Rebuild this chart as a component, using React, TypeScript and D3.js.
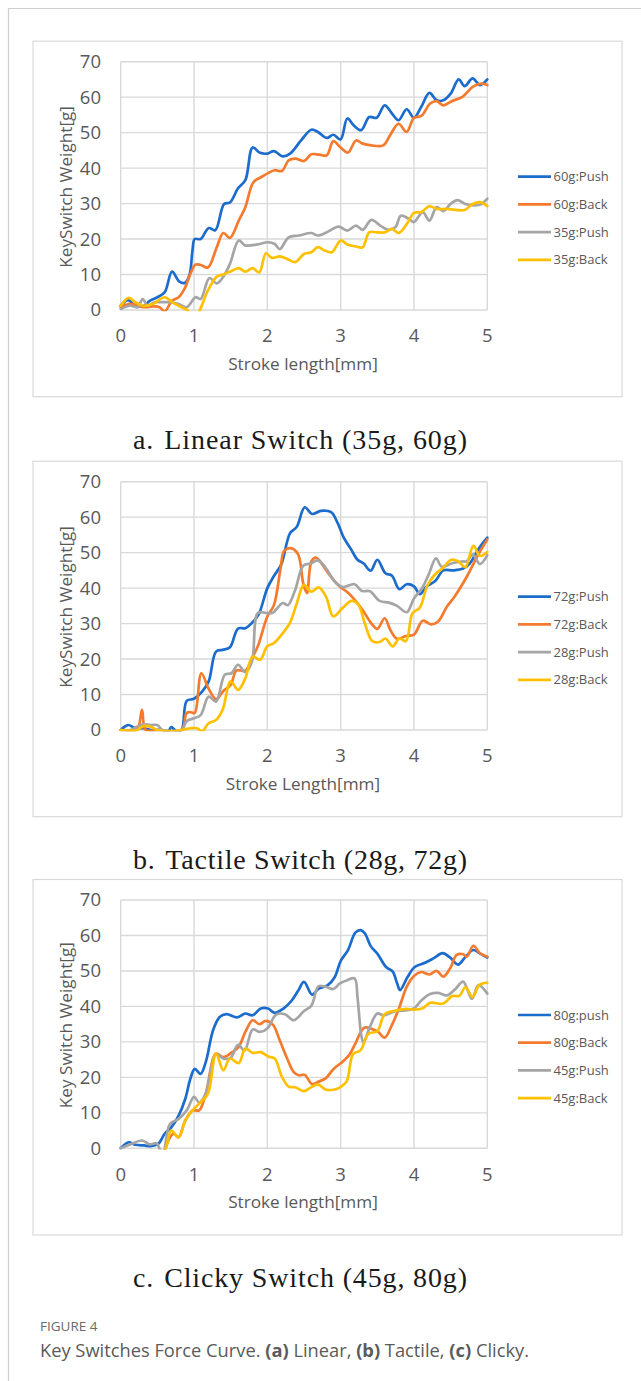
import React from 'react';
import * as d3 from 'd3';

type P = [number, number];

const xTicks = [0, 1, 2, 3, 4, 5];
const yTicks = [0, 10, 20, 30, 40, 50, 60, 70];
const seriesColors = ['#1b6ccc', '#f47a2e', '#a5a5a5', '#ffc000'];

// ---- a. Linear ----
const linearNames = ['60g:Push', '60g:Back', '35g:Push', '35g:Back'];
const a60Push: P[] = [[0,1.2],[0.1,2.8],[0.2,1.2],[0.32,1.2],[0.39,2.5],[0.5,3.6],[0.6,5],[0.7,10.8],[0.8,8],[0.88,7.7],[0.94,10],[0.98,17],[1.01,20],[1.09,20],[1.2,23.1],[1.29,22.5],[1.41,29.9],[1.49,30.3],[1.6,34.3],[1.7,36.6],[1.8,45.8],[1.9,44.3],[2.0,44.1],[2.09,44.8],[2.21,43.3],[2.31,44.1],[2.46,47.8],[2.6,50.8],[2.69,50.2],[2.81,48.5],[2.9,49.4],[3.0,48.1],[3.09,54],[3.18,52],[3.28,50.7],[3.39,54.4],[3.49,54.2],[3.6,57.7],[3.7,55.4],[3.79,53.5],[3.9,56.6],[4.0,54.2],[4.1,57.3],[4.21,61.2],[4.31,59.1],[4.4,59.1],[4.5,61],[4.61,65],[4.69,63.1],[4.8,65.3],[4.9,63.4],[5.0,65]];
const a60Back: P[] = [[0,0.8],[0.13,1.7],[0.32,0.8],[0.44,1],[0.53,0.8],[0.6,-0.4],[0.7,2.6],[0.79,3.6],[0.88,6.4],[0.95,10.2],[1.02,12.8],[1.09,12.7],[1.19,12],[1.31,17.7],[1.4,21.7],[1.49,20.3],[1.61,25.2],[1.7,29],[1.81,36],[1.92,37.5],[2.01,38.6],[2.1,39.4],[2.2,39.2],[2.29,42.2],[2.38,42.7],[2.5,42],[2.6,43.9],[2.71,43.8],[2.81,43.6],[2.9,47.6],[3.0,45.8],[3.1,44.4],[3.21,47.8],[3.3,46.9],[3.42,46.4],[3.58,46.4],[3.68,49.5],[3.79,52.5],[3.9,50.2],[4.0,54.2],[4.1,54.7],[4.22,58.2],[4.31,58.9],[4.4,57.7],[4.52,58.9],[4.66,60.1],[4.8,62.9],[4.92,63.8],[5.0,63.4]];
const a35Push: P[] = [[0,0.3],[0.13,1.2],[0.23,0.8],[0.3,3.1],[0.37,1.2],[0.46,2.2],[0.55,2.2],[0.65,2.2],[0.79,1.7],[0.9,0.8],[1.02,3.6],[1.09,3.1],[1.21,9],[1.31,7.5],[1.4,9.4],[1.49,13],[1.61,19.6],[1.7,18.2],[1.87,18.5],[2.01,19.1],[2.1,18.6],[2.17,17.2],[2.29,20.5],[2.43,21],[2.6,21.7],[2.69,21],[2.81,21.9],[2.97,23.5],[3.09,22.4],[3.21,23.8],[3.3,22.6],[3.42,25.4],[3.54,23.8],[3.65,22.6],[3.75,23.4],[3.82,26.6],[3.93,25.7],[4.0,24.8],[4.12,27.6],[4.21,25.2],[4.31,29],[4.4,27.9],[4.5,29.9],[4.59,31],[4.71,29.8],[4.83,29.5],[4.92,29.9],[5.0,31.4]];
const a35Back: P[] = [[0,1.2],[0.11,3.4],[0.2,2.2],[0.3,1.2],[0.44,1.7],[0.6,3.6],[0.7,2.2],[0.79,1.2],[0.93,-0.4],[1.0,-2.5],[1.07,-0.4],[1.19,5.5],[1.31,9.4],[1.4,10],[1.52,11.1],[1.61,11.8],[1.7,10.8],[1.8,11.8],[1.89,10.6],[1.98,16],[2.06,14.7],[2.17,15.1],[2.27,14.4],[2.38,13.5],[2.5,15.8],[2.6,16.3],[2.69,17.7],[2.78,16.8],[2.88,16.3],[3.0,19.6],[3.09,18.5],[3.21,17.9],[3.3,17.7],[3.39,21.9],[3.49,21.9],[3.6,21.9],[3.7,22.9],[3.79,21.7],[3.91,24.5],[4.0,27.4],[4.1,27.6],[4.21,29.3],[4.31,28.5],[4.45,28.5],[4.69,28.2],[4.8,29.9],[4.9,30.4],[5.0,29.3]];

// ---- b. Tactile ----
const tactileNames = ['72g:Push', '72g:Back', '28g:Push', '28g:Back'];
const b72Push: P[] = [[0,0],[0.1,1.4],[0.2,0.5],[0.31,0.5],[0.41,0],[0.55,0],[0.65,-0.3],[0.69,0.8],[0.76,-0.3],[0.83,0],[0.9,8.2],[1.0,8.8],[1.11,10.8],[1.2,13.7],[1.3,22.1],[1.39,22.6],[1.49,23.3],[1.6,28.6],[1.7,28.7],[1.79,30.2],[1.88,32.5],[2.0,40],[2.09,43.4],[2.19,46.7],[2.31,55.5],[2.4,57.2],[2.51,62.8],[2.61,60.9],[2.73,61.8],[2.87,61.4],[2.96,58.3],[3.04,54.3],[3.14,51],[3.23,48],[3.31,47],[3.41,44.9],[3.5,48],[3.61,44.2],[3.7,43.5],[3.8,39.7],[3.9,41.1],[4.0,40.5],[4.08,38.3],[4.18,40.6],[4.29,42],[4.4,45],[4.54,45],[4.67,45.5],[4.76,46.9],[4.85,50],[4.92,52.2],[5.0,54.2]];
const b72Back: P[] = [[0,0],[0.22,0],[0.29,5.7],[0.34,0],[0.5,0],[0.83,0],[0.9,4.8],[0.96,5],[1.01,4.8],[1.1,16],[1.2,11.6],[1.3,8.7],[1.4,11],[1.5,12.7],[1.58,16.8],[1.7,16.7],[1.79,20.3],[1.87,23.6],[2.0,32],[2.09,35.2],[2.18,45.5],[2.23,50.5],[2.33,51.2],[2.42,49.5],[2.49,41.3],[2.54,38.6],[2.6,47.5],[2.66,48.6],[2.7,48],[2.85,43.7],[2.98,40.6],[3.1,38.7],[3.22,36],[3.31,33.5],[3.41,30.3],[3.5,28.5],[3.6,31.5],[3.68,28.1],[3.77,25.7],[3.89,26.5],[4.0,26.9],[4.12,30.8],[4.23,29.8],[4.33,30.6],[4.45,34.8],[4.55,37.5],[4.72,43.2],[4.88,49.6],[5.0,53.7]];
const b28Push: P[] = [[0,0],[0.13,0],[0.22,0.9],[0.31,1.6],[0.41,1.4],[0.5,1.4],[0.57,0],[0.83,0],[0.9,2.5],[1.0,3.3],[1.09,4.2],[1.2,9.4],[1.3,8],[1.42,15.6],[1.51,16],[1.6,18.4],[1.7,16.3],[1.79,19.3],[1.87,33],[1.98,33],[2.07,33],[2.21,35.8],[2.28,35.2],[2.38,39.5],[2.49,46.3],[2.6,47],[2.69,47.8],[2.8,45.6],[2.92,41.8],[3.03,40.3],[3.19,41.1],[3.29,39.2],[3.4,39.1],[3.53,36.4],[3.66,35.9],[3.77,35],[3.9,33.2],[4.0,37.1],[4.11,40],[4.2,43.8],[4.3,48.4],[4.38,46],[4.52,47],[4.65,47.5],[4.72,47.6],[4.8,49.5],[4.9,46.8],[5.0,49.3]];
const b28Back: P[] = [[0,0],[0.22,0],[0.31,1.1],[0.41,0.9],[0.5,0],[0.7,-0.3],[0.83,0],[0.95,0.5],[1.04,0.5],[1.11,-0.3],[1.2,1.9],[1.3,2.8],[1.39,5.7],[1.5,13.7],[1.6,11.3],[1.7,14.6],[1.8,20.7],[1.9,19.8],[2.0,23.6],[2.09,24.5],[2.21,27.3],[2.31,30.3],[2.4,35.6],[2.5,40.9],[2.6,39],[2.7,40.2],[2.8,37.6],[2.9,32],[3.03,34.5],[3.15,36.4],[3.24,35.4],[3.33,30],[3.43,25.1],[3.53,24.8],[3.61,25.8],[3.71,23.6],[3.8,25.8],[3.89,25.1],[3.98,32.9],[4.08,34.5],[4.18,40.6],[4.28,43.7],[4.39,45.6],[4.51,48],[4.6,47.6],[4.7,45.9],[4.81,51.9],[4.9,49.1],[5.0,50.2]];

// ---- c. Clicky ----
const clickyNames = ['80g:push', '80g:Back', '45g:Push', '45g:Back'];
const c80Push: P[] = [[0,0],[0.11,1.7],[0.2,1],[0.32,0.8],[0.41,0.6],[0.51,1.2],[0.6,4.1],[0.69,5.9],[0.79,9.2],[0.88,13.9],[0.95,19.6],[1.01,22.4],[1.09,21],[1.16,24.3],[1.26,33.3],[1.35,37],[1.44,37.8],[1.59,36.9],[1.7,38],[1.8,37.5],[1.91,39.4],[2.01,39.4],[2.1,38.2],[2.22,39.4],[2.33,41.6],[2.42,44.4],[2.5,46.9],[2.61,43.3],[2.7,45],[2.82,45.9],[2.92,48.3],[3.0,52.8],[3.1,55.9],[3.2,60.8],[3.27,61.5],[3.33,60.6],[3.41,57],[3.5,54.9],[3.62,51.1],[3.71,49.8],[3.77,46.5],[3.81,44.6],[3.91,48.2],[4.01,51.1],[4.15,52.3],[4.27,53.6],[4.39,55],[4.49,53.8],[4.6,51.8],[4.7,53.9],[4.81,55.9],[4.91,54.8],[5.0,53.8]];
const c80Back: P[] = [[0.5,-4],[0.6,-0.7],[0.65,2.2],[0.72,4.1],[0.79,3.1],[0.88,7.8],[0.98,10.7],[1.07,10.7],[1.16,15.4],[1.3,26.7],[1.4,25.7],[1.52,27.1],[1.61,28.6],[1.7,32.8],[1.8,36.1],[1.89,35],[1.98,35.9],[2.08,34.7],[2.17,30.4],[2.27,25.3],[2.36,21.5],[2.43,20.6],[2.51,20.7],[2.61,18.1],[2.7,18.8],[2.8,19.8],[2.9,22.3],[3.03,24.5],[3.12,26.4],[3.2,29.5],[3.32,34],[3.43,33.6],[3.51,32.8],[3.6,31.2],[3.7,34.8],[3.8,39.7],[3.9,45.5],[4.0,48.6],[4.1,49.7],[4.21,49],[4.31,50],[4.4,48.4],[4.5,51],[4.58,54.5],[4.67,54.7],[4.72,54],[4.81,57.1],[4.9,55],[5.0,54]];
const c45Push: P[] = [[0,0],[0.13,1.1],[0.29,2.2],[0.4,1.1],[0.49,1.4],[0.54,-0.5],[0.58,-1],[0.67,6.8],[0.79,8.3],[0.9,10.7],[1.0,14.5],[1.07,12.9],[1.16,15.4],[1.3,26.5],[1.4,25.3],[1.5,25.5],[1.6,29.2],[1.69,27.6],[1.8,33.5],[1.9,32.8],[2.0,33.8],[2.12,37.7],[2.24,37.8],[2.36,36.1],[2.5,38.7],[2.6,40.2],[2.7,45.7],[2.8,45.5],[2.9,44.9],[2.99,46.5],[3.09,47.4],[3.19,47.9],[3.23,42.5],[3.28,32],[3.31,29.8],[3.4,34.3],[3.5,38],[3.59,37.5],[3.75,38.7],[3.88,38.9],[4.0,39.4],[4.1,41.7],[4.22,43.5],[4.33,43.8],[4.45,43.1],[4.56,44.8],[4.67,47],[4.79,42.1],[4.88,46],[5.0,43.6]];
const c45Back: P[] = [[0.5,-4],[0.62,0.3],[0.69,5],[0.79,3.1],[0.88,7.8],[0.98,10.7],[1.09,13],[1.19,15.4],[1.3,26.7],[1.4,22],[1.49,25.3],[1.61,24],[1.7,28.1],[1.8,26.9],[1.91,27.1],[2.01,25.9],[2.1,25.3],[2.2,20.1],[2.29,17.4],[2.38,17.2],[2.5,16.1],[2.59,17.1],[2.69,18],[2.8,16.5],[2.9,16.5],[2.99,17.2],[3.08,18.8],[3.17,26.6],[3.27,27.6],[3.38,32.3],[3.5,33],[3.6,37.8],[3.75,38.8],[3.9,39.3],[4.0,39.1],[4.12,39.5],[4.22,41],[4.4,40.8],[4.52,42.9],[4.62,43],[4.7,45.4],[4.8,42.7],[4.89,46],[5.0,46.7]];

const FONT = "'Open Sans', 'Noto Sans', sans-serif";
const TXT = '#595959';

interface ChartProps {
  id: string;
  top: number;
  series: P[][];
  names: string[];
  xTitle: string;
  yTitle: string;
  capLabel: string;
  capText: string;
}

const PLOT_L = 120.7;
const PLOT_R = 487.3;
const PLOT_H = 248.3;

function Chart({ id, top, series, names, xTitle, yTitle, capLabel, capText }: ChartProps) {
  const x = d3.scaleLinear().domain([0, 5]).range([PLOT_L, PLOT_R]);
  const y = d3.scaleLinear().domain([0, 70]).range([top + PLOT_H, top]);
  const line = d3
    .line<P>()
    .x((d) => x(d[0]))
    .y((d) => y(d[1]))
    .curve(d3.curveCatmullRom.alpha(0.5));
  const boxTop = top - 20.5;
  const boxBottom = top + 335;
  const bottom = top + PLOT_H;
  return (
    <g>
      <defs>
        <clipPath id={`clip-${id}`}>
          <rect x={PLOT_L - 2} y={top - 2} width={PLOT_R - PLOT_L + 4} height={PLOT_H + 3.2} />
        </clipPath>
      </defs>
      <rect x={33} y={boxTop} width={589} height={boxBottom - boxTop} fill="#fff" stroke="#d9d9d9" strokeWidth={1.2} />
      {yTicks.map((t) => (
        <line key={`h${t}`} x1={PLOT_L} x2={PLOT_R} y1={y(t)} y2={y(t)} stroke="#d9d9d9" strokeWidth={1.4} />
      ))}
      {xTicks.map((t) => (
        <line key={`v${t}`} x1={x(t)} x2={x(t)} y1={top} y2={bottom} stroke="#d9d9d9" strokeWidth={1.4} />
      ))}
      {yTicks.map((t) => (
        <text key={`yl${t}`} x={101} y={y(t)} dy="0.35em" textAnchor="end" fontFamily={FONT} fontSize={18.5} fill={TXT}>
          {t}
        </text>
      ))}
      {xTicks.map((t) => (
        <text key={`xl${t}`} x={x(t)} y={bottom + 26} dy="0.35em" textAnchor="middle" fontFamily={FONT} fontSize={18.5} fill={TXT}>
          {t}
        </text>
      ))}
      <text x={(PLOT_L + PLOT_R) / 2 - 1} y={bottom + 54} dy="0.35em" textAnchor="middle" fontFamily={FONT} fontSize={17.2} fill={TXT}>
        {xTitle}
      </text>
      <text
        transform={`translate(66,${top + PLOT_H / 2 + 1}) rotate(-90)`}
        dy="0.35em"
        textAnchor="middle"
        fontFamily={FONT}
        fontSize={17.2}
        fill={TXT}
      >
        {yTitle}
      </text>
      <g clipPath={`url(#clip-${id})`}>
        {series.map((s, i) => (
          <path key={i} d={line(s) || ''} fill="none" stroke={seriesColors[i]} strokeWidth={2.7} strokeLinejoin="round" strokeLinecap="round" />
        ))}
      </g>
      {names.map((n, i) => {
        const ly = top + 115 + i * 27.7;
        return (
          <g key={n}>
            <line x1={518} x2={551} y1={ly} y2={ly} stroke={seriesColors[i]} strokeWidth={2.7} />
            <text x={553.5} y={ly} dy="0.35em" fontFamily={FONT} fontSize={13} fill={TXT}>
              {n}
            </text>
          </g>
        );
      })}
      <text
        x={133}
        y={top + 387}
        fontFamily="'Liberation Serif', 'DejaVu Serif', serif"
        fontSize={28}
        fill="#1a1a1a"
        textLength={334}
        lengthAdjust="spacing"
      >
        <tspan>{capLabel}</tspan>
        <tspan dx={10}>{capText}</tspan>
      </text>
    </g>
  );
}

export default function App() {
  return (
    <svg width={641} height={1381} style={{ position: 'absolute', left: 0, top: 0, background: '#fff' }}>
      <rect x={0} y={0} width={641} height={1381} fill="#fff" />
      <line x1={8} x2={641} y1={8.5} y2={8.5} stroke="#cfcfcf" strokeWidth={1.2} />
      <line x1={8.5} x2={8.5} y1={8} y2={1381} stroke="#cfcfcf" strokeWidth={1.2} />
      <Chart
        id="a"
        top={61.7}
        series={[a60Push, a60Back, a35Push, a35Back]}
        names={linearNames}
        xTitle="Stroke length[mm]"
        yTitle="KeySwitch Weight[g]"
        capLabel="a."
        capText="Linear Switch (35g, 60g)"
      />
      <Chart
        id="b"
        top={481.7}
        series={[b72Push, b72Back, b28Push, b28Back]}
        names={tactileNames}
        xTitle="Stroke Length[mm]"
        yTitle="KeySwitch Weight[g]"
        capLabel="b."
        capText="Tactile Switch (28g, 72g)"
      />
      <Chart
        id="c"
        top={900}
        series={[c80Push, c80Back, c45Push, c45Back]}
        names={clickyNames}
        xTitle="Stroke length[mm]"
        yTitle="Key Switch Weight[g]"
        capLabel="c."
        capText="Clicky Switch (45g, 80g)"
      />
      <text x={40} y={1331} fontFamily={FONT} fontSize={13.5} fontWeight={500} fill="#6a6a6a">
        FIGURE 4
      </text>
      <text x={40} y={1357} fontFamily={FONT} fontSize={18.3} fill="#5a5a5a">
        <tspan>Key Switches Force Curve. </tspan>
        <tspan fontWeight={700}>(a)</tspan>
        <tspan> Linear, </tspan>
        <tspan fontWeight={700}>(b)</tspan>
        <tspan> Tactile, </tspan>
        <tspan fontWeight={700}>(c)</tspan>
        <tspan> Clicky.</tspan>
      </text>
    </svg>
  );
}
